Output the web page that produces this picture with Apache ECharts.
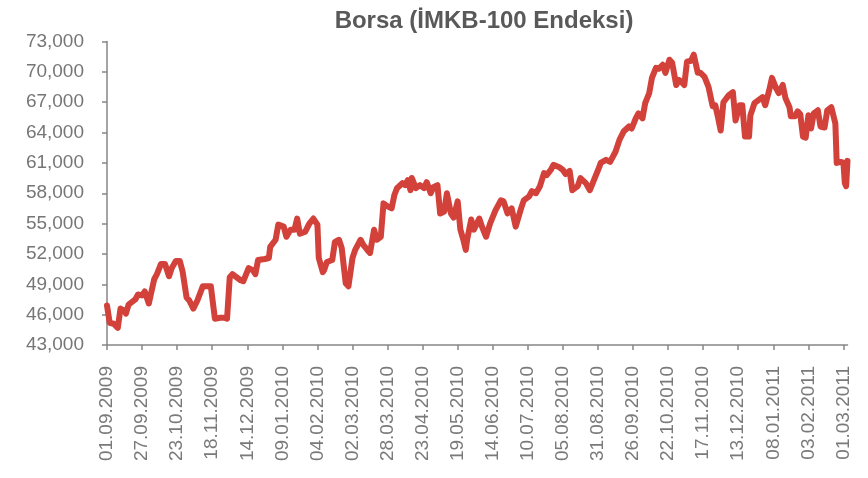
<!DOCTYPE html>
<head>
    <meta charset="utf-8">
    <title>Borsa</title>
</head>
<body style="margin:0">
    <div id="chart" style="width:868px;height:478px"></div>
    <script src="https://cdn.jsdelivr.net/npm/echarts/dist/echarts.min.js"></script>
    <script>
        // days counted from 01.09.2009
        var dayIndex = [0, 2, 5, 8, 10, 13, 14, 16, 21, 23, 26, 28, 31, 33, 35, 37, 40, 43, 46, 48,
            51, 54, 56, 59, 61, 64, 67, 71, 74, 77, 78, 80, 84, 87, 89, 91, 93, 99, 101, 105,
            108, 110, 112, 117, 120, 121, 125, 127, 131, 133, 136, 139, 141, 143, 147, 150, 153, 156, 157, 160,
            161, 163, 167, 169, 172, 174, 177, 179, 182, 184, 188, 190, 193, 195, 198, 200, 203, 205, 208, 211,
            213, 215, 219, 221, 223, 225, 226, 229, 232, 235, 237, 240, 242, 245, 247, 250, 252, 255, 257, 260,
            262, 264, 266, 267, 270, 272, 276, 278, 281, 284, 288, 292, 294, 297, 300, 303, 307, 309, 313, 315,
            318, 321, 324, 326, 329, 331, 335, 338, 340, 343, 345, 349, 351, 355, 358, 361, 365, 366, 370, 373,
            377, 380, 383, 387, 389, 392, 394, 397, 399, 402, 404, 407, 409, 412, 414, 417, 419, 422, 424, 426,
            428, 430, 433, 435, 438, 440, 443, 446, 449, 451, 453, 455, 457, 461, 464, 465, 466, 469, 471, 473,
            476, 477, 480, 483, 486, 488, 491, 493, 496, 498, 501, 503, 506, 507, 510, 512, 514, 516, 518, 520,
            522, 524, 527, 529, 532, 534, 537, 540, 541, 544, 546, 547, 548, 549];
        var indexValues = [46900, 45200, 45100, 44700, 46600, 46400, 46100, 47000, 47500, 48000, 47900, 48300, 47100, 48300, 49500, 50000, 51000, 51000, 49800, 50600,
            51300, 51300, 50300, 47700, 47400, 46600, 47400, 48800, 48800, 48800, 47700, 45600, 45700, 45700, 45600, 49700, 50000, 49400, 49300, 50600,
            50400, 50000, 51400, 51500, 51600, 52700, 53400, 54900, 54700, 53700, 54400, 54400, 55500, 54000, 54200, 55000, 55500, 54900, 51600, 50200,
            50400, 51200, 51400, 53200, 53400, 52600, 49100, 48800, 51600, 52400, 53400, 52900, 52400, 52100, 54400, 53400, 53700, 57000, 56700, 56500,
            57800, 58500, 59000, 58800, 59300, 58300, 59500, 58500, 58800, 58500, 59100, 58000, 58600, 58800, 56000, 56200, 58000, 56000, 55600, 57200,
            54400, 53500, 52400, 53400, 55400, 54400, 55500, 54700, 53700, 55000, 56300, 57300, 57200, 56000, 56500, 54700, 56500, 57300, 57700, 58200,
            58000, 58700, 60000, 59800, 60300, 60800, 60600, 60300, 59900, 60200, 58300, 58700, 59500, 59000, 58300, 59300, 60600, 61000, 61300, 61100,
            62100, 63300, 64100, 64600, 64400, 65400, 65900, 65400, 66900, 67900, 69400, 70400, 70300, 70700, 69900, 71200, 70900, 68700, 69200, 69000,
            68700, 71000, 71100, 71700, 69900, 69900, 69500, 68500, 66600, 66700, 65500, 64200, 67000, 67700, 68000, 66600, 65200, 66700, 66700, 63600,
            63600, 65700, 66900, 67200, 67500, 66700, 68200, 69400, 68400, 67900, 68700, 67400, 66500, 65600, 65600, 66100, 65800, 63600, 63500, 65700,
            64400, 65900, 66200, 64600, 64500, 66200, 66500, 64900, 61000, 61100, 61000, 59000, 58700, 61200];
        var dayCount = 550;
        var yMin = 43000, yMax = 73000, yStep = 3000;

        function pad(n) { return (n < 10 ? '0' : '') + n; }
        var dayLabels = [];
        var t0 = Date.UTC(2009, 8, 1);
        for (var i = 0; i < dayCount; i++) {
            var d = new Date(t0 + i * 86400000);
            dayLabels.push(pad(d.getUTCDate()) + '.' + pad(d.getUTCMonth() + 1) + '.' + d.getUTCFullYear());
        }
        var seriesData = dayIndex.map(function (k, j) { return [k, indexValues[j]]; });

        var myChart = echarts.init(document.getElementById('chart'));
        var option = {
            animation: false,
            title: {
                text: 'Borsa (İMKB-100 Endeksi)',
                left: 479,
                textAlign: 'center',
                top: 4,
                textStyle: {
                    fontFamily: 'Arial, Liberation Sans',
                    fontSize: 24,
                    fontWeight: 'bold',
                    color: '#595959'
                }
            },
            grid: {
                left: 107,
                right: 20.5,
                top: 41.5,
                bottom: 133,
                containLabel: false
            },
            xAxis: {
                type: 'category',
                data: dayLabels,
                boundaryGap: false,
                axisLine: { lineStyle: { color: '#868686', width: 1.5 } },
                axisTick: { interval: 25, length: 5, lineStyle: { color: '#868686', width: 1.5 } },
                axisLabel: {
                    interval: 25,
                    rotate: 90,
                    margin: 21,
                    fontFamily: 'Arial, Liberation Sans',
                    fontSize: 19,
                    color: '#7a7a7a'
                },
                splitLine: { show: false }
            },
            yAxis: {
                type: 'value',
                min: yMin,
                max: yMax,
                interval: yStep,
                axisLine: { show: true, lineStyle: { color: '#868686', width: 1.5 } },
                axisTick: { show: true, length: 5, lineStyle: { color: '#868686', width: 1.5 } },
                axisLabel: {
                    margin: 23,
                    fontFamily: 'Arial, Liberation Sans',
                    fontSize: 19,
                    color: '#767676',
                    formatter: function (v) { return v.toString().replace(/\B(?=(\d{3})+(?!\d))/g, ','); }
                },
                splitLine: { show: false }
            },
            series: [{
                type: 'line',
                data: seriesData,
                showSymbol: false,
                symbol: 'none',
                lineStyle: { color: '#D2413A', width: 6, cap: 'round', join: 'round' }
            }]
        };
        myChart.setOption(option);
    </script>
</body>
